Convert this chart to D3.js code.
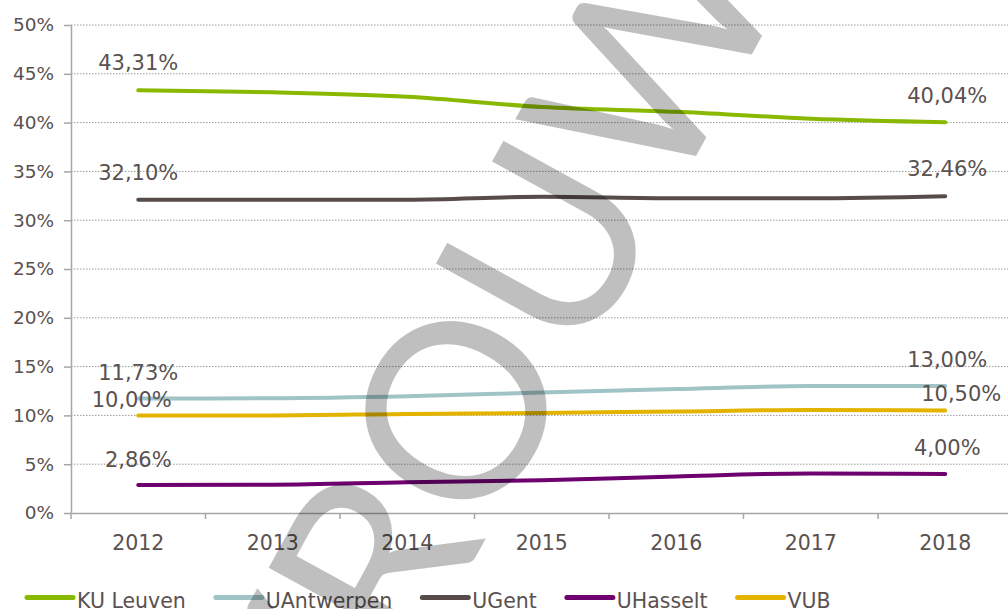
<!DOCTYPE html>
<html>
<head>
<meta charset="utf-8">
<script src="https://cdn.jsdelivr.net/npm/d3@7/dist/d3.min.js"></script>
<style>
  body { margin: 0; background: #fff; }
  text { font-family: "DejaVu Sans", Verdana, sans-serif; fill: #5a5150; }
</style>
</head>
<body>
<div class="chart"></div>
<script>
// values in percent
var years = ["2012", "2013", "2014", "2015", "2016", "2017", "2018"];
var kuLeuven   = [43.31, 43.10, 42.65, 41.60, 41.10, 40.40, 40.04];
var uAntwerpen = [11.73, 11.75, 11.95, 12.35, 12.70, 13.00, 13.00];
var uGent      = [32.10, 32.10, 32.10, 32.40, 32.25, 32.25, 32.46];
var uHasselt   = [2.86, 2.90, 3.15, 3.35, 3.75, 4.05, 4.00];
var vub        = [10.00, 10.00, 10.15, 10.25, 10.40, 10.55, 10.50];
var seriesNames = ["KU Leuven", "UAntwerpen", "UGent", "UHasselt", "VUB"];
var yTicks = [0, 5, 10, 15, 20, 25, 30, 35, 40, 45, 50];
var watermark = "VROUW";

var colors = ["#88b800", "#a0c4c6", "#574c4a", "#6e0070", "#e2b400"];

var width = 1008, height = 609;
var plot = {left: 71, right: 1012.5, top: 25, bottom: 513};

var svg = d3.select(".chart")
    .append("svg")
    .attr("width", width)
    .attr("height", height);

var x = d3.scaleBand().domain(years).range([plot.left, plot.right]);
var y = d3.scaleLinear().domain([0, 50]).range([plot.bottom, plot.top]);
var cx = function(i) { return x(years[i]) + x.bandwidth() / 2; };

var nl = d3.formatLocale({decimal: ",", thousands: ".", grouping: [3], currency: ["€", ""]});
var pct = nl.format(".2f");

// gridlines
svg.append("g")
    .attr("class", "grid")
  .selectAll("line")
    .data(yTicks.filter(function(d) { return d > 0; }))
  .enter().append("line")
    .attr("x1", plot.left)
    .attr("x2", width)
    .attr("y1", function(d) { return y(d); })
    .attr("y2", function(d) { return y(d); })
    .style("stroke", "#9a9a9a")
    .style("stroke-width", 1)
    .style("stroke-dasharray", "1.5,1.5");

// y axis
var yAxis = svg.append("g")
    .attr("transform", "translate(" + plot.left + ",0)")
    .call(d3.axisLeft(y).tickValues(yTicks).tickSize(7).tickSizeOuter(0).tickPadding(10)
      .tickFormat(function(d) { return d + "%"; }));
yAxis.select(".domain").style("stroke", "#a6a6a6").style("stroke-width", 1.5);
yAxis.selectAll(".tick line").style("stroke", "#a6a6a6").style("stroke-width", 1.5);
yAxis.selectAll("text").style("font-size", "18.5px").style("fill", "#5a5150")
    .style("font-family", "'DejaVu Sans', Verdana, sans-serif");

// x axis
var xAxis = svg.append("g")
    .attr("transform", "translate(0," + plot.bottom + ")")
    .call(d3.axisBottom(x).tickSize(0).tickSizeOuter(0));
xAxis.select(".domain").style("stroke", "#a6a6a6").style("stroke-width", 1.5);
xAxis.selectAll("text")
    .attr("y", 37).attr("dy", 0)
    .style("font-size", "20.5px").style("fill", "#5a5150")
    .style("font-family", "'DejaVu Sans', Verdana, sans-serif");
xAxis.selectAll(".sep")
    .data(years)
  .enter().append("line")
    .attr("class", "sep")
    .attr("x1", function(d) { return x(d); })
    .attr("x2", function(d) { return x(d); })
    .attr("y1", 0)
    .attr("y2", 6)
    .style("stroke", "#a6a6a6")
    .style("stroke-width", 1.5);

// lines
var allSeries = [kuLeuven, uAntwerpen, uGent, uHasselt, vub];
var line = d3.line()
    .x(function(d, i) { return cx(i); })
    .y(function(d) { return y(d); })
    .curve(d3.curveMonotoneX);

svg.append("g")
    .attr("class", "lines")
  .selectAll("path")
    .data(allSeries)
  .enter().append("path")
    .attr("d", line)
    .style("fill", "none")
    .style("stroke", function(d, i) { return colors[i]; })
    .style("stroke-width", 4)
    .style("stroke-linecap", "round")
    .style("stroke-linejoin", "round");

// data labels on first and last year
var nudge = { // [dxFirst, dyFirst, dxLast, dyLast]
  "KU Leuven":  [0, -20, 2, -19.5],
  "UAntwerpen": [0, -18.5, 2, -19.5],
  "UGent":      [0, -20, 2, -20],
  "UHasselt":   [0, -18.5, 2, -19],
  "VUB":        [-6.5, -8, 16, -10]
};
var labels = [];
allSeries.forEach(function(s, k) {
  var n = nudge[seriesNames[k]];
  labels.push({v: s[0], x: cx(0) + n[0], y: y(s[0]) + n[1]});
  labels.push({v: s[s.length - 1], x: cx(s.length - 1) + n[2], y: y(s[s.length - 1]) + n[3]});
});
svg.append("g")
    .attr("class", "labels")
  .selectAll("text")
    .data(labels)
  .enter().append("text")
    .attr("x", function(d) { return d.x; })
    .attr("y", function(d) { return d.y; })
    .attr("text-anchor", "middle")
    .style("font-size", "21px")
    .text(function(d) { return pct(d.v) + "%"; });

// legend
var legend = svg.append("g").attr("class", "legend");
var lx = 27;
seriesNames.forEach(function(name, i) {
  legend.append("line")
      .attr("x1", lx).attr("x2", lx + 46)
      .attr("y1", 597.5).attr("y2", 597.5)
      .style("stroke", colors[i])
      .style("stroke-width", 5)
      .style("stroke-linecap", "round");
  var t = legend.append("text")
      .attr("x", lx + 50)
      .attr("y", 608)
      .style("font-size", "20.5px")
      .text(name);
  lx = lx + 50 + t.node().getComputedTextLength() + 30;
});

// watermark over everything
var wm = svg.append("g")
    .attr("transform", "translate(456,410) rotate(-61.2)");
var wt = wm.append("text")
    .style("font-family", "Lato, 'Open Sans', sans-serif")
    .style("font-size", "246px")
    .style("fill", "#000")
    .style("fill-opacity", 0.25)
    .text(watermark);
var node = wt.node();
var off = node.getSubStringLength(0, 2) + node.getSubStringLength(2, 1) / 2;
wt.attr("x", -off).attr("y", 246 * 0.358);
</script>
</body>
</html>
